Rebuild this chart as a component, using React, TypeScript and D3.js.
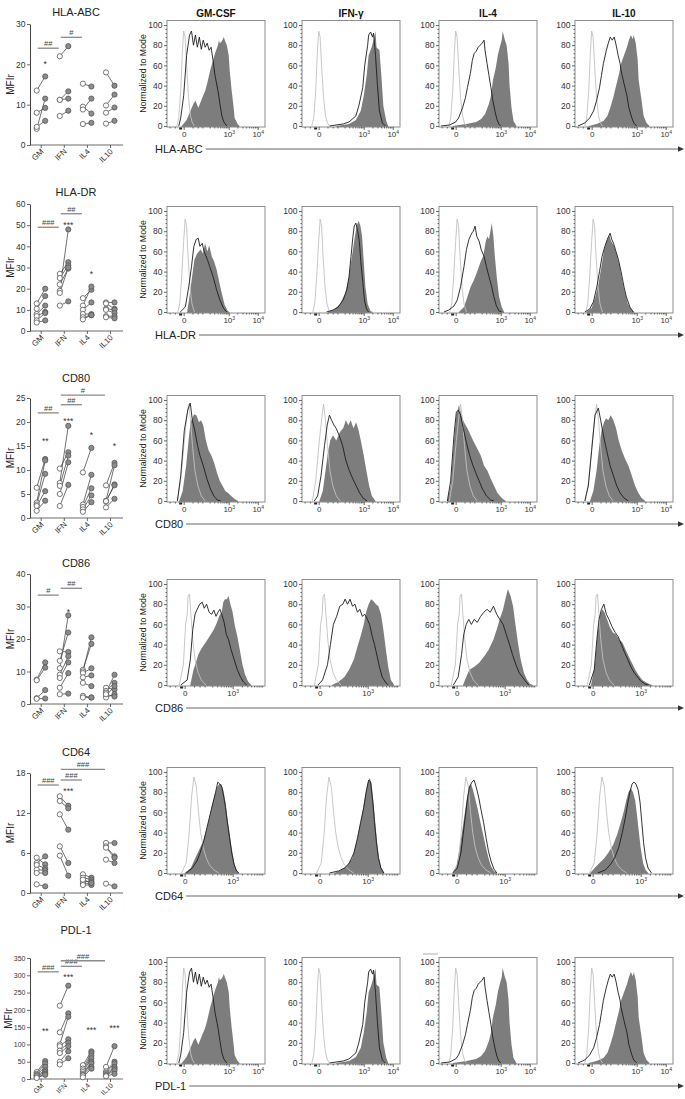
import * as d3 from 'd3'
import { useEffect, useRef } from 'react'

type Pt = [number, number]
type Bar = [string, string, string, number]
type Star = [string, string, number]

const FONT = '"Liberation Sans", Arial, Helvetica, sans-serif'

const markers = ['HLA-ABC', 'HLA-DR', 'CD80', 'CD86', 'CD64', 'PDL-1']
const conditions = ['GM-CSF', 'IFN-γ', 'IL-4', 'IL-10']
const groups = ['GM', 'IFN', 'IL4', 'IL10']

// MFIr axis (max, step) per marker
const mfiMax = [30, 60, 25, 40, 18, 350]
const mfiStep = [10, 10, 5, 10, 6, 50]

// donor pairs per group: [open (control), filled (stimulated)]
const hlaAbcPairs: Pt[][] = [
  [[13.5, 17], [8, 9.2], [4, 11.5], [4.5, 6]],
  [[22, 24.5], [11.2, 13.3], [11.2, 11.5], [7.2, 8.5]],
  [[15.2, 14.5], [9.5, 7.8], [8.8, 11.5], [5.2, 5.5]],
  [[18, 14.7], [9.8, 12.5], [8, 9.3], [5.3, 6]],
]
const hlaDrPairs: Pt[][] = [
  [[13, 20], [10.5, 16.5], [8, 12], [7, 9], [5, 8.5], [4, 5]],
  [[19, 48], [27, 32.5], [25, 31], [22, 29.5], [18, 30], [12, 14]],
  [[15.5, 19.5], [12, 21], [10, 13.5], [8, 8], [6.5, 7.5], [5.5, 7.5]],
  [[13.5, 13.5], [13, 10.5], [10.5, 10], [10, 8.5], [7, 7], [6.5, 6]],
]
const cd80Pairs: Pt[][] = [
  [[6.3, 12.3], [3.2, 12], [2.8, 9.2], [2.5, 5.6], [1.5, 3.6]],
  [[7.3, 19.2], [10.3, 13.7], [6.7, 13], [5, 11.6], [2.5, 6.9]],
  [[9.5, 14.6], [2.8, 9], [2.3, 6.2], [1.8, 4.7], [1.3, 3.3]],
  [[6.8, 11.5], [3.6, 11], [3.4, 7], [2.2, 4], [3.5, 6.8]],
]
const cd86Pairs: Pt[][] = [
  [[7.5, 12.8], [7.3, 11.2], [1.8, 4.3], [1.6, 1.7]],
  [[16.2, 16], [13.3, 22], [11, 27.3], [9, 14.7], [8, 12.8], [5, 9.5], [3, 3.2]],
  [[10.5, 18.5], [10, 20.5], [9.5, 11], [8.2, 8.8], [6.5, 5.5], [2.5, 2], [2, 2]],
  [[5, 4.5], [4, 6.5], [3.5, 9], [2.5, 5.5], [2, 3], [3, 2.3]],
]
const cd64Pairs: Pt[][] = [
  [[5.3, 4.3], [4.5, 5.5], [4.2, 3.7], [3.5, 3.4], [3, 3], [1.3, 1]],
  [[14.5, 13.1], [13.8, 12.7], [11.8, 9.5], [7, 4.5], [5.6, 2.6]],
  [[2.8, 2.3], [2.3, 2], [1.8, 1.7], [1.5, 1.4], [1.2, 1.2], [2, 1.5]],
  [[7.5, 7.5], [7, 5.5], [5, 4.5], [1.4, 1], [6.8, 5.3]],
]
const pdl1Pairs: Pt[][] = [
  [[20, 52], [15, 45], [12, 35], [10, 25], [8, 20], [5, 15], [3, 12]],
  [[212, 270], [135, 190], [100, 180], [95, 115], [82, 105], [75, 95], [50, 80], [42, 60]],
  [[40, 80], [30, 75], [25, 68], [20, 60], [15, 50], [12, 45], [10, 35], [5, 30]],
  [[35, 95], [22, 50], [18, 45], [15, 35], [12, 30], [10, 25], [8, 15]],
]

// significance: bars [from, to, label, value], stars [group, label, value]
const hlaAbcBars: Bar[] = [['GM', 'IFN', '##', 24], ['IFN', 'IL4', '#', 26.7]]
const hlaAbcStars: Star[] = [['GM', '*', 20.5]]
const hlaDrBars: Bar[] = [['GM', 'IFN', '###', 49], ['IFN', 'IL4', '##', 55.4]]
const hlaDrStars: Star[] = [['IFN', '***', 51], ['IL4', '*', 28]]
const cd80Bars: Bar[] = [['GM', 'IFN', '##', 21.9], ['IFN', 'IL4', '##', 23.6], ['IFN', 'IL10', '#', 25.6]]
const cd80Stars: Star[] = [['GM', '**', 16.5], ['IFN', '***', 20.7], ['IL4', '*', 17.8], ['IL10', '*', 15.4]]
const cd86Bars: Bar[] = [['GM', 'IFN', '#', 33.5], ['IFN', 'IL4', '##', 35.6]]
const cd86Stars: Star[] = [['IFN', '*', 28.8]]
const cd64Bars: Bar[] = [['GM', 'IFN', '###', 16.2], ['IFN', 'IL4', '###', 16.95], ['IFN', 'IL10', '###', 18.55]]
const cd64Stars: Star[] = [['IFN', '***', 15.6]]
const pdl1Bars: Bar[] = [['GM', 'IFN', '###', 310], ['IFN', 'IL4', '###', 326], ['IFN', 'IL10', '###', 342]]
const pdl1Stars: Star[] = [['GM', '**', 145], ['IFN', '***', 300], ['IL4', '***', 148], ['IL10', '***', 153]]

// histograms: [display channel (0-100), % of mode]
const hlaAbcIso: Pt[] = [[10, 0], [12, 8], [14, 35], [15.5, 70], [17, 94], [18.5, 88], [20, 60], [22, 28], [24, 10], [26, 3], [28, 0]]
const hlaAbcLine: Pt[][] = [
  [[12, 0], [14, 8], [17, 30], [20, 70], [23, 90], [25, 94], [27, 80], [29, 90], [31, 78], [33, 88], [35, 76], [37, 85], [39, 78], [41, 82], [43, 75], [45, 78], [47, 65], [49, 50], [52, 35], [54, 22], [56, 10], [58, 4], [61, 0]],
  [[28, 0], [42, 2], [48, 4], [55, 10], [58, 20], [62, 38], [64, 60], [67, 80], [68, 90], [70, 93], [72, 88], [73, 92], [75, 70], [77, 40], [79, 15], [82, 3], [85, 0]],
  [[2, 0], [11, 1], [17, 4], [20, 8], [24, 18], [27, 28], [29, 38], [32, 52], [34, 65], [36, 72], [38, 74], [40, 78], [42, 80], [44, 82], [46, 85], [47, 75], [49, 62], [51, 50], [53, 38], [55, 25], [57, 15], [59, 7], [61, 2], [63, 0]],
  [[3, 0], [10, 3], [15, 8], [19, 15], [22, 25], [25, 38], [27, 50], [29, 62], [32, 75], [34, 82], [36, 88], [38, 85], [40, 88], [42, 80], [44, 70], [46, 62], [47, 55], [50, 42], [53, 30], [55, 18], [58, 8], [60, 3], [63, 0]],
]
const hlaAbcFill: Pt[][] = [
  [[15, 0], [20, 6], [24, 15], [27, 22], [29, 25], [32, 18], [36, 28], [39, 35], [41, 42], [44, 55], [47, 65], [49, 72], [52, 80], [53, 85], [54, 82], [56, 84], [58, 88], [59, 85], [61, 80], [63, 70], [64, 55], [66, 35], [68, 18], [69, 8], [72, 2], [74, 0]],
  [[35, 0], [48, 2], [55, 6], [60, 15], [63, 30], [66, 50], [68, 70], [71, 78], [73, 85], [75, 94], [76, 78], [79, 75], [81, 50], [83, 20], [86, 5], [88, 0]],
  [[14, 0], [28, 2], [38, 4], [43, 7], [47, 12], [51, 22], [53, 30], [55, 45], [58, 58], [60, 70], [62, 78], [64, 85], [65, 94], [67, 86], [69, 80], [71, 62], [72, 40], [74, 18], [76, 5], [79, 0]],
  [[14, 0], [22, 2], [29, 5], [33, 10], [36, 18], [39, 28], [42, 40], [45, 52], [47, 62], [50, 70], [53, 78], [55, 85], [57, 90], [59, 86], [60, 90], [62, 82], [64, 65], [65, 45], [68, 25], [70, 10], [73, 3], [76, 0]],
]

const hlaDrIso: Pt[] = [[11, 0], [13, 8], [15, 35], [17, 70], [18.5, 92], [20, 85], [21.5, 55], [23.5, 25], [25.5, 8], [28, 0]]
const hlaDrLine: Pt[][] = [
  [[13.5, 0], [18.7, 5], [22.2, 25], [25, 45], [27.4, 65], [29.8, 72], [31.9, 73], [33.6, 65], [36, 68], [37.8, 60], [41.2, 52], [43.6, 45], [47, 35], [50.6, 22], [54, 12], [57.5, 4], [61, 0]],
  [[25, 0], [31.9, 2], [37, 5], [42, 12], [45.7, 22], [48, 35], [50, 55], [52, 75], [53.3, 85], [55, 88], [56.8, 80], [58.5, 70], [60, 50], [62, 30], [63.7, 12], [65.8, 3], [68, 0]],
  [[5, 0], [10, 2], [15.3, 6], [18.7, 12], [22, 25], [25.5, 45], [28, 62], [30.6, 72], [33.4, 78], [35, 80], [36.8, 85], [38.5, 75], [41, 70], [43, 62], [46, 55], [48.4, 45], [51, 35], [53.8, 25], [56, 15], [58.6, 6], [61.3, 1], [64, 0]],
  [[10, 0], [15, 3], [18.8, 10], [22.3, 25], [25, 40], [27.6, 55], [30.5, 65], [33, 72], [35.8, 78], [37.5, 72], [39.3, 68], [41.8, 60], [44.3, 52], [47, 40], [50, 25], [52.4, 15], [56, 5], [59.5, 0]],
]
const hlaDrFill: Pt[][] = [
  [[20.5, 0], [22.9, 15], [25.6, 35], [28, 52], [30.8, 58], [34.3, 62], [36.7, 58], [38.8, 68], [41.2, 60], [43, 66], [45.7, 55], [48.1, 50], [50.6, 42], [53.3, 30], [56, 18], [58.9, 7], [62, 1], [63.7, 0]],
  [[26.7, 0], [33.6, 3], [38.8, 8], [44, 18], [47.4, 32], [49.9, 48], [52, 62], [54, 75], [56, 86], [57.8, 90], [59.5, 86], [61.3, 75], [63, 50], [64.7, 25], [67, 8], [69.9, 1], [72, 0]],
  [[20.4, 0], [25.5, 5], [29, 15], [32.3, 25], [35.8, 32], [39, 40], [42.6, 50], [45.3, 56], [47.7, 70], [49.4, 75], [51, 72], [52.8, 82], [53.8, 88], [55.5, 75], [57, 55], [58.9, 35], [61.3, 15], [64, 5], [66.4, 0]],
  [[11.7, 0], [17, 4], [20.5, 14], [24, 28], [27, 45], [29.4, 60], [32.2, 70], [35, 76], [37, 70], [40, 65], [42.8, 56], [45.7, 45], [48.5, 30], [51.3, 18], [54, 8], [57.7, 2], [60.5, 0]],
]

const cd80Iso: Pt[] = [[10.6, 0], [14, 20], [17.7, 60], [20.5, 85], [22, 96], [24, 80], [26, 55], [28.5, 30], [31.5, 15], [35, 5], [39, 0]]
const cd80Line: Pt[][] = [
  [[10.6, 0], [14, 25], [17.7, 70], [21.2, 90], [23.7, 97], [25.9, 80], [28.3, 70], [31.2, 55], [33.6, 45], [37, 35], [40.7, 22], [44.3, 12], [47.8, 5], [51.3, 1], [54.8, 0]],
  [[12.5, 0], [16, 5], [19.4, 25], [23, 55], [25.7, 75], [28, 85], [30.2, 80], [32.7, 75], [34.8, 72], [37.9, 65], [41.4, 55], [44.8, 40], [48.3, 30], [51.8, 22], [55.3, 15], [58.8, 8], [62.2, 3], [66.4, 0]],
  [[8.5, 0], [11.9, 20], [15.3, 65], [17.7, 88], [19.7, 90], [22, 85], [24.8, 72], [27.9, 58], [31.3, 45], [34.7, 35], [37.5, 28], [40.9, 20], [44.3, 12], [48.4, 5], [52.8, 1], [56, 0]],
  [[10, 0], [13.6, 15], [17, 50], [20.4, 85], [23.8, 92], [26.2, 80], [29, 65], [32.3, 50], [35.8, 35], [39.2, 25], [42.6, 15], [46, 8], [50, 3], [54.5, 0]],
]
const cd80Fill: Pt[][] = [
  [[12.4, 0], [16, 10], [19.5, 35], [22, 60], [24, 78], [25.9, 82], [27.6, 86], [30, 85], [32.6, 78], [34.7, 80], [37, 75], [39.7, 60], [42.5, 50], [45.3, 45], [48, 38], [51, 28], [53.8, 20], [56.6, 15], [59.5, 10], [62.3, 8], [65.5, 5], [69, 2], [72.6, 0]],
  [[17.7, 0], [21.2, 10], [24, 30], [26.4, 48], [28.8, 60], [31.6, 65], [35, 60], [38.6, 68], [42, 72], [44.8, 80], [47.3, 75], [49.7, 80], [52.5, 72], [55.3, 78], [57.7, 70], [60, 60], [63, 45], [65.7, 30], [68.5, 15], [71.3, 5], [75, 0]],
  [[8.5, 0], [11.9, 15], [15.3, 60], [17.7, 85], [20.4, 95], [23, 85], [25.5, 78], [29, 72], [32.3, 65], [35.8, 58], [39, 52], [42.6, 45], [46, 35], [49.4, 30], [52.8, 22], [56.2, 15], [59.6, 8], [64, 3], [68, 0]],
  [[15.3, 0], [18.7, 10], [22, 30], [24.8, 55], [27.2, 70], [29.6, 78], [31.7, 82], [34, 80], [36.4, 85], [39.2, 80], [41.9, 72], [44.6, 60], [47.7, 50], [51, 42], [54.5, 35], [58, 25], [61.3, 15], [64.7, 8], [68, 3], [71.6, 0]],
]

const cd86Iso: Pt[] = [[12.6, 0], [16.7, 20], [19, 60], [20.6, 70], [21.5, 88], [23, 90], [24.4, 70], [26.3, 45], [28.6, 25], [31.8, 12], [35, 5], [39.8, 0]]
const cd86Line: Pt[][] = [
  [[14, 0], [20.6, 5], [23.8, 25], [26.3, 55], [28.6, 70], [30.8, 75], [33.4, 80], [36, 82], [38, 76], [40.4, 80], [43, 72], [45.5, 70], [47.8, 74], [50, 68], [52, 72], [54, 75], [55.8, 70], [58.3, 62], [60.6, 50], [62.8, 45], [65.4, 35], [68.6, 25], [71.8, 15], [75, 8], [78, 3], [81.4, 0]],
  [[16.4, 0], [21, 5], [26, 20], [29, 40], [32, 60], [35.4, 68], [38.5, 78], [41.7, 80], [44, 85], [46.4, 80], [49, 85], [51.5, 78], [54, 80], [56.6, 72], [59, 75], [61.6, 68], [64, 70], [66.7, 65], [69, 60], [71.7, 48], [74, 40], [76.8, 28], [79, 18], [81.8, 8], [85, 3], [88, 0]],
  [[14.7, 0], [19.6, 8], [23, 30], [25.2, 50], [27.8, 60], [30.4, 65], [33, 60], [36, 65], [39, 62], [42.5, 68], [45.8, 72], [49, 75], [52.3, 72], [55.6, 78], [58.9, 70], [62, 65], [65.4, 60], [68.7, 50], [72, 40], [75, 30], [78.5, 20], [81.8, 12], [85, 8], [88, 4], [91.6, 0]],
  [[14.7, 0], [19.6, 15], [22.3, 45], [24.5, 65], [27, 75], [29.4, 80], [32, 70], [34.7, 65], [37.6, 58], [41, 52], [44, 48], [47.4, 40], [50.7, 32], [54, 25], [57, 18], [60.5, 12], [63.8, 8], [67, 4], [71.3, 1], [75, 0]],
]
const cd86Fill: Pt[][] = [
  [[23.8, 0], [27, 15], [29.5, 22], [31.8, 30], [35, 36], [38, 40], [41.4, 45], [44.6, 50], [47.8, 55], [51, 62], [53.2, 68], [55.8, 72], [57.4, 82], [59, 85], [60.9, 85], [62.8, 88], [64.7, 80], [67, 72], [69, 60], [71.8, 48], [74.3, 35], [77, 20], [79.8, 10], [83, 3], [86, 0]],
  [[30.6, 0], [37, 3], [43.3, 8], [48, 15], [52.8, 25], [56.6, 38], [59.7, 48], [63, 60], [65.4, 72], [68, 80], [70.5, 85], [73, 83], [75.5, 80], [78, 78], [80.6, 70], [83, 55], [85.6, 35], [88, 18], [90.7, 5], [94, 0]],
  [[24.5, 0], [27.8, 8], [31, 15], [36, 18], [41, 22], [45.8, 28], [50.7, 35], [55.6, 45], [58.9, 55], [62, 65], [65.4, 75], [67.7, 85], [70.3, 95], [73, 88], [75.6, 78], [78, 60], [80.8, 40], [83.4, 25], [86.7, 12], [90, 5], [93, 1], [96, 0]],
  [[16.4, 0], [20.3, 20], [22.9, 50], [25.5, 68], [27.8, 75], [30, 72], [32.7, 65], [35.3, 58], [38.6, 52], [41.9, 50], [45, 45], [48.4, 42], [51.7, 35], [55, 28], [58, 22], [61.5, 15], [64.8, 10], [68.7, 5], [73.6, 2], [78.5, 0]],
]

const cd64Iso: Pt[] = [[14.8, 0], [19.6, 10], [22.7, 40], [25, 75], [27.5, 95], [30, 85], [32.2, 60], [34.4, 40], [37, 25], [40, 15], [43.3, 8], [48, 3], [52.8, 0]]
const cd64Line: Pt[][] = [
  [[19.6, 0], [26, 5], [30.6, 12], [33.8, 20], [37.6, 32], [40.8, 45], [44, 58], [47, 70], [49.6, 80], [51.8, 90], [54, 88], [56, 85], [58, 75], [59.7, 65], [61.6, 50], [63.8, 35], [66, 20], [68.6, 8], [71, 2], [73.3, 0]],
  [[28, 0], [37.3, 2], [43.6, 5], [48.3, 10], [53, 20], [56.7, 35], [59.8, 50], [63, 65], [65.4, 80], [68, 92], [70, 90], [72.3, 70], [74, 50], [76, 30], [78, 15], [80.4, 5], [83.5, 0]],
  [[14, 0], [18.6, 5], [22.4, 20], [25.5, 45], [28.6, 70], [31, 85], [33.6, 90], [35.8, 92], [38, 85], [40.5, 75], [43, 62], [45.5, 50], [48, 35], [50.4, 22], [53, 12], [56, 4], [59, 0]],
  [[23.3, 0], [31, 3], [35.8, 8], [40.5, 15], [44.5, 25], [48.3, 40], [51.4, 55], [54, 70], [56, 80], [58.2, 88], [60, 90], [62.3, 88], [64.5, 82], [66.4, 70], [68.2, 50], [70, 30], [72, 15], [74.5, 5], [78, 0]],
]
const cd64Fill: Pt[][] = [
  [[18, 0], [24.3, 5], [29, 15], [33.8, 25], [37, 32], [40, 42], [43.3, 55], [46.4, 68], [49, 78], [51, 85], [53.4, 88], [55.3, 88], [57.5, 82], [59.7, 70], [61.6, 55], [63.8, 40], [66, 25], [68.6, 10], [71, 3], [73.6, 0]],
  [[32.7, 0], [40.5, 3], [46.7, 8], [51.4, 15], [55.4, 30], [58.6, 45], [61.7, 60], [64.2, 75], [66.7, 88], [69.2, 94], [71, 88], [73, 70], [74.8, 50], [76.7, 30], [78.5, 15], [81, 5], [84, 0]],
  [[14, 0], [18, 8], [21, 25], [24.2, 45], [26.4, 60], [28.6, 75], [30.5, 85], [32.7, 88], [34.8, 82], [37.3, 72], [39.8, 62], [42.3, 50], [45, 38], [48, 25], [50.4, 15], [53, 7], [56, 2], [59, 0]],
  [[15.5, 0], [20, 5], [25, 10], [29.5, 14], [34, 20], [39, 28], [43, 38], [46.7, 50], [50, 62], [52.3, 72], [54.5, 80], [57, 84], [59.2, 80], [61.4, 72], [63.2, 58], [65, 42], [67, 25], [69.5, 10], [72, 3], [74.8, 0]],
]

// the PDL-1 overlays in the source figure are the same as the HLA-ABC ones
const pdl1Iso = hlaAbcIso
const pdl1Line = hlaAbcLine
const pdl1Fill = hlaAbcFill

// biexponential display: channel of 0 and of 10^3, labelled decades
const wideAxis = { zero: 17, thousand: 63, labels: [0, 1e3, 1e4] }
const narrowAxis = { zero: 18, thousand: 67, labels: [0, 1e3] }
const minorIntensities = [-60, -30, 30, 60, 100, 200, 300, 400, 500, 600, 700, 800, 900, 2000, 3000, 4000, 5000, 6000, 7000, 8000, 9000]

const rows = [
  { pairs: hlaAbcPairs, bars: hlaAbcBars, stars: hlaAbcStars, iso: hlaAbcIso, line: hlaAbcLine, fill: hlaAbcFill, axis: wideAxis },
  { pairs: hlaDrPairs, bars: hlaDrBars, stars: hlaDrStars, iso: hlaDrIso, line: hlaDrLine, fill: hlaDrFill, axis: wideAxis },
  { pairs: cd80Pairs, bars: cd80Bars, stars: cd80Stars, iso: cd80Iso, line: cd80Line, fill: cd80Fill, axis: wideAxis },
  { pairs: cd86Pairs, bars: cd86Bars, stars: cd86Stars, iso: cd86Iso, line: cd86Line, fill: cd86Fill, axis: narrowAxis },
  { pairs: cd64Pairs, bars: cd64Bars, stars: cd64Stars, iso: cd64Iso, line: cd64Line, fill: cd64Fill, axis: narrowAxis },
  { pairs: pdl1Pairs, bars: pdl1Bars, stars: pdl1Stars, iso: pdl1Iso, line: pdl1Line, fill: pdl1Fill, axis: wideAxis },
]

// layout
const dotTop = [24, 204, 398, 574, 773, 958]
const dotBottom = [145, 331, 518, 704, 893, 1079]
const titleY = [12, 192, 378, 563, 752, 930]
const histTop = [25, 211, 400, 584, 772, 962]
const histCols = [167, 302, 439, 575]
const HIST_W = 98
const HIST_H = 101

const styleAxis = (g: any, size: number) => {
  g.attr('font-family', FONT).attr('font-size', size).attr('color', '#444')
  g.selectAll('line').attr('stroke-width', 0.8)
  g.selectAll('text').attr('fill', '#333')
}

const drawDots = (svg: any, ri: number) => {
  const row = rows[ri]
  const top = dotTop[ri]
  const bottom = dotBottom[ri]
  const small = mfiMax[ri] >= 100
  const y = d3.scaleLinear().domain([0, mfiMax[ri]]).range([bottom, top])
  const x = d3.scalePoint().domain(groups).range([40.7, 110])
  const g = svg.append('g')

  g.append('text')
    .attr('x', 76)
    .attr('y', titleY[ri] + 4)
    .attr('text-anchor', 'middle')
    .attr('font-family', FONT)
    .attr('font-size', 11)
    .attr('fill', '#222')
    .text(markers[ri])

  g.append('text')
    .attr('transform', `translate(${small ? 12 : 14},${(top + bottom) / 2}) rotate(-90)`)
    .attr('text-anchor', 'middle')
    .attr('font-family', FONT)
    .attr('font-size', 10)
    .attr('fill', '#222')
    .text('MFIr')

  const ya = g
    .append('g')
    .attr('transform', 'translate(30,0)')
    .call(d3.axisLeft(y).tickValues(d3.range(0, mfiMax[ri] + 0.01, mfiStep[ri])).tickSize(3).tickPadding(1.5).tickSizeOuter(0))
  styleAxis(ya, small ? 7 : 8.5)

  g.append('line').attr('x1', 30).attr('x2', 123).attr('y1', bottom).attr('y2', bottom).attr('stroke', '#444').attr('stroke-width', 0.8)
  const xa = g.append('g').attr('transform', `translate(0,${bottom})`).call(d3.axisBottom(x).tickSize(3).tickSizeOuter(0))
  xa.select('.domain').remove()
  styleAxis(xa, small ? 7 : 8)
  xa.selectAll('.tick text')
    .attr('x', 0)
    .attr('y', 0)
    .attr('dy', 0)
    .attr('text-anchor', 'end')
    .attr('transform', 'translate(3,7) rotate(-45)')

  // significance bars
  row.bars.forEach(([a, b, label, v]) => {
    const x1 = (x(a) as number) - 3
    const x2 = (x(b) as number) - 5
    g.append('line').attr('x1', x1).attr('x2', x2).attr('y1', y(v)).attr('y2', y(v)).attr('stroke', '#8a8a8a').attr('stroke-width', 1.3)
    g.append('text')
      .attr('x', (x1 + x2) / 2)
      .attr('y', y(v) - 2)
      .attr('text-anchor', 'middle')
      .attr('font-family', FONT)
      .attr('font-size', 7.5)
      .attr('fill', '#444')
      .text(label)
  })
  row.stars.forEach(([grp, label, v]) => {
    g.append('text')
      .attr('x', (x(grp) as number) + 4.5)
      .attr('y', y(v) + 5)
      .attr('text-anchor', 'middle')
      .attr('font-family', FONT)
      .attr('font-size', 8.5)
      .attr('fill', '#333')
      .text(label)
  })

  // paired donors
  row.pairs.forEach((pairs, gi) => {
    const cx = x(groups[gi]) as number
    pairs.forEach(([o, f]) => {
      g.append('line')
        .attr('x1', cx - 4)
        .attr('y1', y(o))
        .attr('x2', cx + 4.5)
        .attr('y2', y(f))
        .attr('stroke', '#333')
        .attr('stroke-width', 0.7)
    })
    pairs.forEach(([o, f]) => {
      g.append('circle').attr('cx', cx - 4).attr('cy', y(o)).attr('r', 2.6).attr('fill', '#fff').attr('stroke', '#555').attr('stroke-width', 0.8)
      g.append('circle').attr('cx', cx + 4.5).attr('cy', y(f)).attr('r', 2.6).attr('fill', '#8c8c8c').attr('stroke', '#555').attr('stroke-width', 0.8)
    })
  })
}

const drawHist = (svg: any, ri: number, ci: number) => {
  const row = rows[ri]
  const x0 = histCols[ci]
  const y100 = histTop[ri]
  const y0 = y100 + HIST_H
  const frameTop = y100 - 4.5
  const frameBottom = y0 + 1
  const x = d3.scaleLinear().domain([0, 100]).range([x0, x0 + HIST_W])
  const y = d3.scaleLinear().domain([0, 100]).range([y0, y100])
  const ax = row.axis
  const xi = d3.scaleSymlog().constant(30).domain([0, 1000]).range([x(ax.zero), x(ax.thousand)])
  const g = svg.append('g')

  const clipId = `clip-${ri}-${ci}`
  g.append('clipPath')
    .attr('id', clipId)
    .append('rect')
    .attr('x', x0)
    .attr('y', frameTop)
    .attr('width', HIST_W)
    .attr('height', frameBottom - frameTop)
  const plot = g.append('g').attr('clip-path', `url(#${clipId})`)

  const area = d3
    .area<Pt>()
    .x((d) => x(d[0]))
    .y0(frameBottom)
    .y1((d) => y(d[1]))
  const line = d3
    .line<Pt>()
    .x((d) => x(d[0]))
    .y((d) => y(d[1]))

  plot.append('path').datum(row.fill[ci]).attr('d', area).attr('fill', '#7d7d7d')
  plot.append('path').datum(row.iso).attr('d', line).attr('fill', 'none').attr('stroke', '#c2c2c2').attr('stroke-width', 0.9)
  plot.append('path').datum(row.line[ci]).attr('d', line).attr('fill', 'none').attr('stroke', '#1c1c1c').attr('stroke-width', 0.9)

  g.append('rect')
    .attr('x', x0)
    .attr('y', frameTop)
    .attr('width', HIST_W)
    .attr('height', frameBottom - frameTop)
    .attr('fill', 'none')
    .attr('stroke', '#8c8c8c')
    .attr('stroke-width', 1)

  // y axis
  const ya = g
    .append('g')
    .attr('transform', `translate(${x0},0)`)
    .call(d3.axisLeft(y).tickValues([0, 20, 40, 60, 80, 100]).tickSize(3).tickPadding(1.5).tickSizeOuter(0))
  ya.select('.domain').remove()
  styleAxis(ya, 8.5)
  const yMinor = g
    .append('g')
    .attr('transform', `translate(${x0},0)`)
    .call(
      d3
        .axisLeft(y)
        .tickValues(d3.range(4, 100, 4).filter((v) => v % 20 !== 0))
        .tickSize(1.5)
        .tickFormat(() => '')
        .tickSizeOuter(0)
    )
  yMinor.select('.domain').remove()
  styleAxis(yMinor, 8)

  // x axis (biexponential)
  const xa = g
    .append('g')
    .attr('transform', `translate(0,${frameBottom})`)
    .call(d3.axisBottom(xi).tickValues(ax.labels).tickSize(3).tickPadding(1.5).tickFormat(() => ''))
  xa.select('.domain').remove()
  styleAxis(xa, 8)
  xa.selectAll('.tick text').each(function (this: any, d: any) {
    const t = d3.select(this)
    if (d === 0) {
      t.text('0')
    } else {
      t.append('tspan').text('10')
      t.append('tspan').attr('dy', -3).attr('font-size', 5).text(String(Math.round(Math.log10(d))))
    }
  })
  const xMinor = g
    .append('g')
    .attr('transform', `translate(0,${frameBottom})`)
    .call(
      d3
        .axisBottom(xi)
        .tickValues(minorIntensities.filter((v) => xi(v) > x0 + 1 && xi(v) < x0 + HIST_W - 2))
        .tickSize(1.5)
        .tickFormat(() => '')
    )
  xMinor.select('.domain').remove()
  styleAxis(xMinor, 8)
  g.append('rect')
    .attr('x', xi(0) - 4.5)
    .attr('y', frameBottom + 0.5)
    .attr('width', 3)
    .attr('height', 2)
    .attr('fill', '#222')

  if (ci === 0) {
    g.append('text')
      .attr('transform', `translate(${146},${(y0 + y100) / 2 - 2}) rotate(-90)`)
      .attr('text-anchor', 'middle')
      .attr('font-family', FONT)
      .attr('font-size', 8.8)
      .attr('fill', '#222')
      .text('Normalized to Mode')
  }
  if (ri === 0) {
    g.append('text')
      .attr('x', x0 + HIST_W / 2)
      .attr('y', 16.5)
      .attr('text-anchor', 'middle')
      .attr('font-family', FONT)
      .attr('font-weight', 'bold')
      .attr('font-size', 10)
      .attr('fill', '#111')
      .text(conditions[ci])
  }
}

const drawAxisLabel = (svg: any, ri: number) => {
  const y0 = histTop[ri] + HIST_H
  const yy = y0 + 23
  const label = svg
    .append('text')
    .attr('x', 155)
    .attr('y', yy + 3.8)
    .attr('font-family', FONT)
    .attr('font-size', 11)
    .attr('fill', '#222')
    .text(markers[ri])
  const w = (label.node() as SVGTextElement).getComputedTextLength()
  svg.append('line').attr('x1', 155 + w + 3).attr('x2', 679).attr('y1', yy).attr('y2', yy).attr('stroke', '#666').attr('stroke-width', 1)
  svg.append('path').attr('d', `M678,${yy - 2.8}L684,${yy}L678,${yy + 2.8}Z`).attr('fill', '#333')
}

export default function App() {
  const ref = useRef<SVGSVGElement>(null)

  useEffect(() => {
    const svg = d3.select(ref.current)
    svg.selectAll('*').remove()
    svg.append('rect').attr('width', 685).attr('height', 1099).attr('fill', '#fff')
    rows.forEach((_, ri) => {
      drawDots(svg, ri)
      conditions.forEach((_c, ci) => drawHist(svg, ri, ci))
      drawAxisLabel(svg, ri)
    })
    // stray mark above the PDL-1 / IL-4 panel in the source figure
    svg.append('line').attr('x1', 423).attr('x2', 438).attr('y1', 954).attr('y2', 954).attr('stroke', '#bbb').attr('stroke-width', 1.2)
  }, [])

  return (
    <div style={{ position: 'absolute', left: 0, top: 0 }}>
      <svg ref={ref} width={685} height={1099}></svg>
    </div>
  )
}
